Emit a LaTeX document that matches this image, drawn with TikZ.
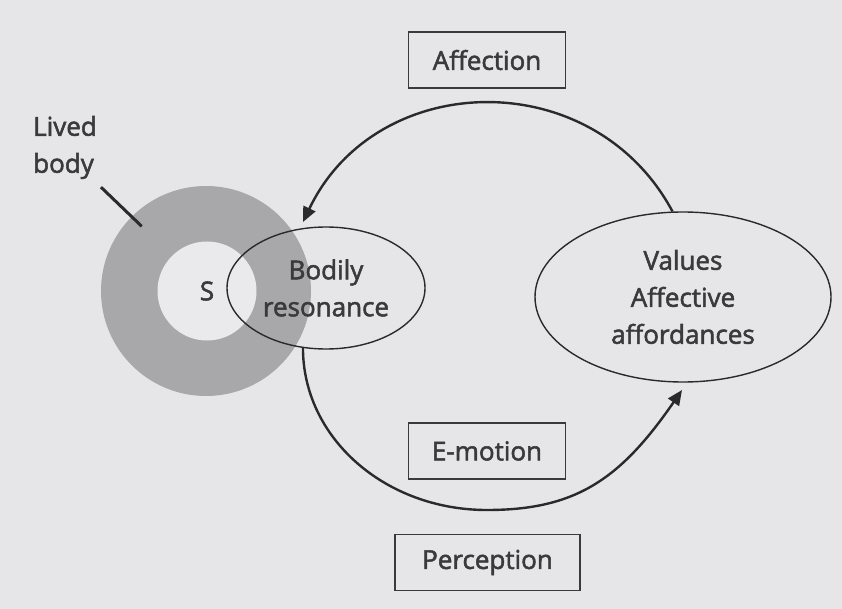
\documentclass[tikz,border=0pt]{standalone}
\usepackage{fontspec}
\setmainfont{Open Sans}
\newfontfamily\lblfont{Open Sans}[FakeBold=2]
\usetikzlibrary{arrows.meta,shapes.geometric}
\definecolor{bg}{HTML}{E6E6E8}
\definecolor{ringc}{HTML}{A8A8AA}
\definecolor{innerc}{HTML}{EAEAEC}
\definecolor{ink}{HTML}{3A3A3A}
\definecolor{linec}{HTML}{2A2A2A}
\tikzset{
  lbl/.style={text=ink, font=\lblfont\fontsize{26}{37}\selectfont, align=center},
  labelbox/.style={lbl, draw=ink, line width=1.8pt, minimum width=157pt, minimum height=56pt, inner sep=0pt},
  oval/.style={ellipse, draw=linec, line width=1.4pt, inner sep=0pt, lbl},
  flow/.style={draw=linec, line width=2.4pt, -{Triangle[length=15pt,width=13pt]}},
  pointer/.style={draw=linec, line width=3pt},
}
\begin{document}
\begin{tikzpicture}[x=1pt,y=-1pt]
\fill[bg] (0,0) rectangle (842,609);
\useasboundingbox (0,0) rectangle (842,609);
% lived body ring
\node[circle, fill=ringc, minimum size=210pt, inner sep=0pt] (ring) at (206,291) {};
\node[circle, fill=innerc, minimum size=99pt, inner sep=0pt, lbl] (s) at (207,291) {S};
% ellipses
\node[oval, minimum width=198pt, minimum height=122pt] (bod) at (326,288) {Bodily\\resonance};
\node[oval, minimum width=296pt, minimum height=170pt] (val) at (683,297) {Values\\Affective\\affordances};
% labels
\node[lbl, align=left, inner sep=0pt, anchor=west] (lived) at (33,147.5) {Lived\\body};
\node[labelbox] (aff) at (487,60) {Affection};
\node[labelbox] (emo) at (487,451) {E-motion};
\node[labelbox, minimum width=185pt] (per) at (487.5,562.5) {Perception};
% connectors
\draw[pointer, shorten >=-14pt] ([xshift=4pt,yshift=-8pt]lived.south east) -- (ring.135);
\coordinate (affend) at (303,222);
\coordinate (emoend) at (682,390);
\draw[flow] (val.97) .. controls (593,63) and (376,69) .. (affend);
\draw[flow] (bod.249) .. controls (303,438) and (385,510) .. (487,510) .. controls (575,510) and (620,480) .. (emoend);
\end{tikzpicture}
\end{document}
